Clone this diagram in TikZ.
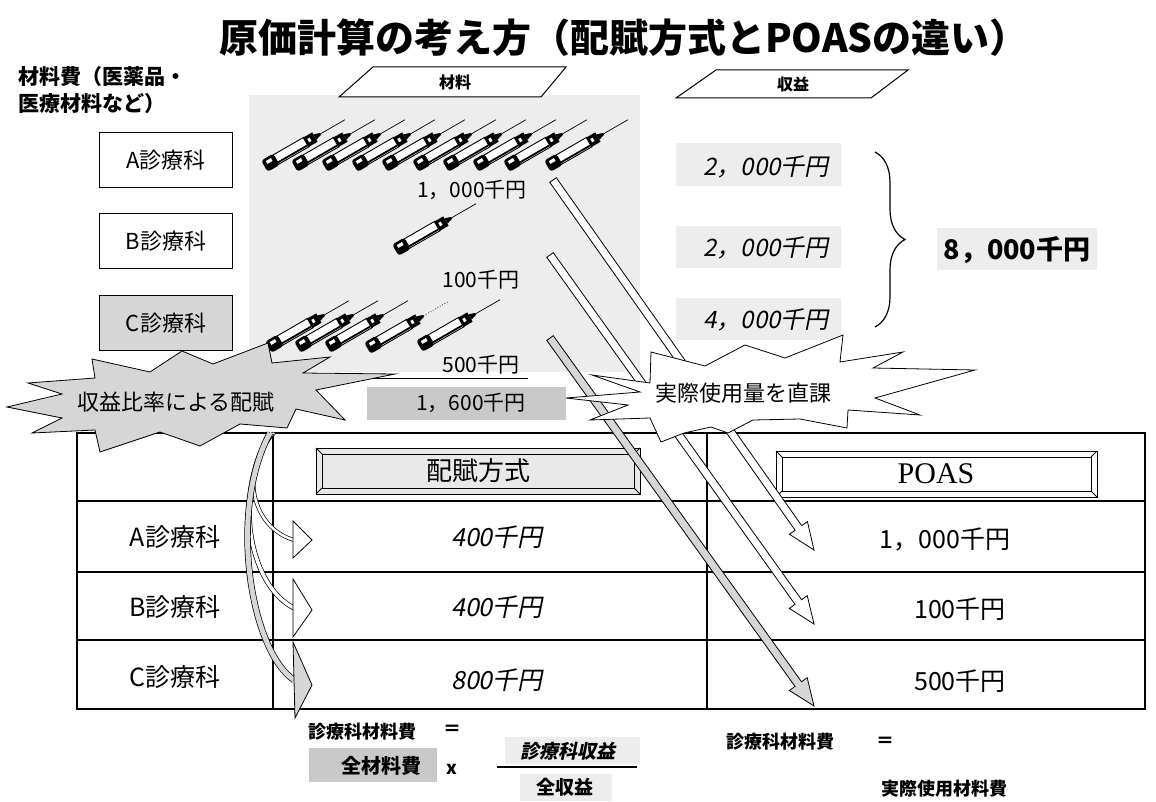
\documentclass[tikz,border=0pt]{standalone}
\usepackage{fontspec}
\setmainfont{Noto Sans CJK JP}
\newfontfamily\jpsl[FakeSlant=0.2]{Noto Sans CJK JP}
\newfontfamily\serifpoas{Liberation Serif}
\usetikzlibrary{calc}
\usetikzlibrary{decorations.pathreplacing}

\definecolor{stip}{gray}{0.84}
\definecolor{stipdark}{gray}{0.79}
\definecolor{stiplight}{gray}{0.93}

\newcommand{\fs}[1]{\fontsize{#1}{#1}\selectfont}

% one syringe, bulb at #2, needle style #1
\newcommand{\syringe}[2][]{%
  \begin{scope}[shift={#2},rotate=30,scale=1.08]
    \draw[line width=0.9pt,fill=white] (2,-5) rectangle (39,5);
    \draw[line width=1.8pt] (4,3.2) -- (38,3.2);
    \fill[rounded corners=3pt] (-6,-6) rectangle (7,6);
    \fill[white] (-2.5,-3.5) rectangle (3,-0.5);
    \fill (38,-5) rectangle (48,5);
    \fill[white] (41,-2) rectangle (43.5,1.5);
    \fill (48,-2.8) -- (54,-1) -- (54,1) -- (48,2.8) -- cycle;
    \draw[line width=0.7pt,#1] (54,0) -- (80,0);
  \end{scope}}

% hollow straight arrow from #2 to #3
\newcommand{\fatarrow}[3][white]{%
  \coordinate (fa-h) at ($(#3)!27pt!(#2)$);
  \draw[line width=0.8pt,fill=#1,line join=miter]
    ($(#2)!4pt!90:(#3)$) -- ($(fa-h)!4pt!-90:(#2)$) -- ($(fa-h)!11pt!-90:(#2)$)
    -- (#3) -- ($(fa-h)!11pt!90:(#2)$) -- ($(fa-h)!4pt!90:(#2)$)
    -- ($(#2)!4pt!-90:(#3)$) -- cycle;}

\begin{document}
\begin{tikzpicture}[x=1pt,y=-1pt,inner sep=0pt,
  dept/.style={draw,line width=1pt,minimum width=133pt,minimum height=55pt,font=\fs{22}},
  amt/.style={font=\fs{21}},
  rev/.style={font=\jpsl\fs{24}},
  cell/.style={font=\fs{25}},
  formula/.style={font=\bfseries\fs{18}}]
\useasboundingbox (0,0) rectangle (1156,802);
\fill[white] (0,0) rectangle (1156,802);

\node[font=\bfseries\fs{39}] (title) at (624,38) {原価計算の考え方（配賦方式とPOASの違い）};
\node[font=\bfseries\fs{21},anchor=west] (cost1) at (18,77) {材料費（医薬品・};
\node[font=\bfseries\fs{21},anchor=west] (cost2) at (18,104) {医療材料など）};

% stippled backgrounds
\fill[stiplight] (249,95) rectangle (640,372);
\fill[stiplight] (676,143) rectangle (841,186);
\fill[stiplight] (676,226) rectangle (841,268);
\fill[stiplight] (676,298) rectangle (841,340);
\fill[stiplight] (937,228) rectangle (1097,270);

\draw[line width=1pt,fill=white] (373,67) -- (566,67) -- (541,97) -- (339,97) -- cycle;
\node[font=\bfseries\fs{16}] (mat) at (455,82) {材料};
\draw[line width=1pt,fill=white] (716,70) -- (908,70) -- (871,98) -- (676,98) -- cycle;
\node[font=\bfseries\fs{16}] (inc) at (793,84) {収益};

\node[dept] (deptA) at (166,160) {A診療科};
\node[dept] (deptB) at (166,241) {B診療科};
\node[dept,fill=stip] (deptC) at (166,323) {C診療科};

\foreach \sx in {270,300,330,360,390,421,451,481,512,553}
  {\syringe{(\sx,163)}}
\syringe{(401,247)}
\foreach \sx in {274,303,333}
  {\syringe{(\sx,344)}}
\syringe[dotted]{(373,345)}
\syringe{(425,343)}

\node[amt] (matA) at (472,190) {1，000千円};
\node[amt] (matB) at (481,280) {100千円};
\node[amt] (matC) at (481,365) {500千円};
\draw[line width=1pt] (300,378) -- (528,378);
\fill[stipdark] (367,387) rectangle (566,420);
\node[amt] (matAll) at (471,403) {1，600千円};

\node[rev] (incA) at (766,167) {2，000千円};
\node[rev] (incB) at (766,248) {2，000千円};
\node[rev] (incC) at (766,320) {4，000千円};
\draw[line width=1.2pt,decorate,decoration={brace,amplitude=30pt}] (875,152) -- (875,327);
\node[font=\bfseries\fs{27}] (incAll) at (1017,250) {8，000千円};

% table
\draw[line width=1.2pt] (77,501) -- (1145,501) (77,572) -- (1145,572) (77,640) -- (1145,640)
  (273,433) -- (273,709) (707,433) -- (707,709);
\draw[line width=2.2pt] (77,433) rectangle (1145,709);

\draw[line width=1pt,fill=stiplight!80!stip] (316,448) rectangle (640,494);
\draw[line width=0.8pt] (322,454) rectangle (634,488);
\draw[line width=0.8pt] (316,448) -- (322,454) (640,448) -- (634,454) (316,494) -- (322,488) (640,494) -- (634,488);
\node[font=\fs{26}] (hdrAlloc) at (478,471) {配賦方式};
\draw[line width=1pt,fill=white] (776,451) rectangle (1097,497);
\draw[line width=0.8pt] (782,457) rectangle (1091,491);
\draw[line width=0.8pt] (776,451) -- (782,457) (1097,451) -- (1091,457) (776,497) -- (782,491) (1097,497) -- (1091,491);
\node[font=\serifpoas\fs{30}] (hdrPoas) at (936,474) {POAS};

\node[cell] (rowA) at (175,537) {A診療科};
\node[cell] (rowB) at (175,607) {B診療科};
\node[cell] (rowC) at (175,677) {C診療科};
\node[rev,font=\jpsl\fs{25}] (allocA) at (497,537) {400千円};
\node[rev,font=\jpsl\fs{25}] (allocB) at (497,607) {400千円};
\node[rev,font=\jpsl\fs{25}] (allocC) at (497,680) {800千円};
\node[cell] (poasA) at (945,539) {1，000千円};
\node[cell] (poasB) at (960,609) {100千円};
\node[cell] (poasC) at (960,681) {500千円};

% direct charge
\coordinate (tailA) at (553,180);
\coordinate (tipA) at (814,550);
\coordinate (tailB) at (550,255);
\coordinate (tipB) at (814,624);
\coordinate (tailC) at (550,338);
\coordinate (tipC) at (814,706);
\fatarrow{tailA}{tipA}
\fatarrow{tailB}{tipB}
\fatarrow[stip]{tailC}{tipC}

% allocation by income
\coordinate (hubA) at (274,433);
\coordinate (hubB) at (272,433);
\coordinate (hubC) at (270,433);
\coordinate (endA) at (294,540);
\coordinate (endB) at (294,608);
\coordinate (endC) at (294,680);
\draw[line width=0.7pt,double=white,double distance=2.5pt] (hubA) .. controls (238,470) and (252,528) .. (endA);
\draw[line width=0.7pt,double=white,double distance=3.5pt] (hubB) .. controls (232,490) and (248,585) .. (endB);
\draw[line width=0.7pt,double=stip,double distance=5pt] (hubC) .. controls (228,510) and (250,650) .. (endC);
\draw[line width=0.8pt,fill=white] (293,521) -- (312,540) -- (293,558) -- cycle;
\draw[line width=0.8pt,fill=white] (293,579) -- (312,610) -- (293,637) -- cycle;
\draw[line width=0.8pt,fill=stip] (293,642) -- (312,685) -- (295,718) -- cycle;

\draw[line width=0.8pt,fill=stip] (7,407) -- (62,394) -- (28,383) -- (95,378) -- (92,359)
  -- (150,372) -- (182,351) -- (213,364) -- (268,343) -- (272,363) -- (330,357) -- (303,373)
  -- (395,374) -- (316,390) -- (345,420) -- (296,409) -- (287,428) -- (240,424) -- (200,446)
  -- (160,432) -- (100,452) -- (95,430) -- (32,433) -- (62,418) -- cycle;
\node[font=\fs{22}] (ratio) at (176,402) {収益比率による配賦};

\draw[line width=0.8pt,fill=white] (566,398) -- (628,405) -- (590,420) -- (650,418) -- (661,442)
  -- (684,433) -- (711,427) -- (728,433) -- (753,420) -- (800,419) -- (847,428) -- (848,410)
  -- (920,415) -- (875,398) -- (975,370) -- (873,368) -- (903,352) -- (840,362) -- (843,335)
  -- (785,358) -- (745,345) -- (705,366) -- (651,352) -- (650,383) -- (592,375) -- (640,392) -- cycle;
\node[font=\fs{22}] (direct) at (743,393) {実際使用量を直課};

% formulas
\node[formula] (fl1) at (362,732) {診療科材料費};
\node[formula] (fleq) at (452,730) {＝};
\fill[stipdark] (309,748) rectangle (437,782);
\node[font=\bfseries\fs{20}] (fall) at (381,766) {全材料費};
\node[formula] (ftimes) at (452,769) {x};
\fill[stiplight] (505,737) rectangle (640,764);
\node[font=\jpsl\bfseries\fs{19}] (fnum) at (568,751) {診療科収益};
\draw[line width=1.2pt] (497,767) -- (637,767);
\fill[stiplight] (520,774) rectangle (612,801);
\node[font=\bfseries\fs{19}] (fden) at (565,787) {全収益};
\node[formula] (fr1) at (780,742) {診療科材料費};
\node[formula] (freq) at (885,742) {＝};
\node[formula] (fr2) at (944,789) {実際使用材料費};
\end{tikzpicture}
\end{document}
